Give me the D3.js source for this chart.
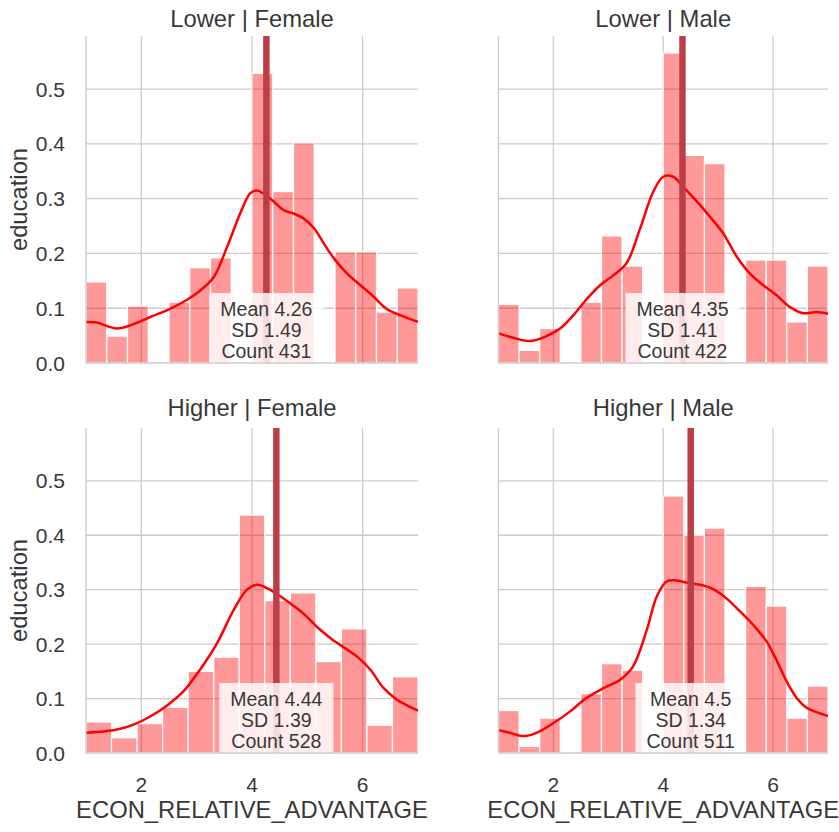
<!DOCTYPE html>
<html>
<head>
<meta charset="utf-8">
<script src="https://cdn.jsdelivr.net/npm/d3@7"></script>
<style>
  html, body { margin: 0; padding: 0; background: #fff; }
  svg { display: block; font-family: "Liberation Sans", Arial, sans-serif; }
</style>
</head>
<body>
<svg id="chart" width="839" height="832"></svg>
<script>
// ---------------- DATA ----------------
const rowLabels = ["Lower", "Higher"];
const colLabels = ["Female", "Male"];
const xLabel = "ECON_RELATIVE_ADVANTAGE";
const yLabel = "education";
const xTicks = [2, 4, 6];
const yTicks = [0.0, 0.1, 0.2, 0.3, 0.4, 0.5];
const xRange = [1, 7];
const yRange = [0, 0.597];

// histogram densities (equal-width bins across xRange)
const densLowerFemale  = [0.148, 0.049, 0.104, 0, 0.111, 0.174, 0.192, 0, 0.529, 0.313, 0.402, 0, 0.203, 0.203, 0.093, 0.137];
const densLowerMale    = [0.107, 0.023, 0.063, 0, 0.111, 0.232, 0.177, 0, 0.566, 0.379, 0.364, 0, 0.188, 0.188, 0.075, 0.177];
const densHigherFemale = [0.057, 0.028, 0.054, 0.084, 0.150, 0.176, 0.437, 0.280, 0.294, 0.168, 0.228, 0.051, 0.140];
const densHigherMale   = [0.078, 0.012, 0.064, 0, 0.109, 0.164, 0.152, 0, 0.472, 0.400, 0.413, 0, 0.306, 0.270, 0.064, 0.123];

// KDE curves [x, density]
const kdeLowerFemale = [[1.0,0.075],[1.19,0.074],[1.56,0.063],[1.86,0.071],[2.16,0.084],[2.46,0.096],[2.82,0.115],[3.06,0.132],[3.31,0.157],[3.55,0.212],[3.79,0.274],[3.97,0.310],[4.09,0.315],[4.21,0.309],[4.39,0.295],[4.57,0.279],[4.75,0.273],[4.93,0.264],[5.12,0.246],[5.30,0.218],[5.48,0.191],[5.72,0.163],[5.96,0.142],[6.20,0.121],[6.44,0.098],[6.69,0.087],[7.0,0.075]];
const kdeLowerMale = [[1.0,0.054],[1.27,0.046],[1.57,0.040],[1.87,0.049],[2.12,0.063],[2.36,0.087],[2.60,0.116],[2.85,0.142],[3.09,0.160],[3.33,0.182],[3.57,0.243],[3.82,0.313],[4.0,0.340],[4.18,0.340],[4.36,0.322],[4.61,0.295],[4.85,0.267],[5.09,0.237],[5.34,0.194],[5.58,0.163],[5.82,0.142],[6.06,0.124],[6.31,0.102],[6.55,0.091],[6.79,0.093],[7.0,0.090]];
const kdeHigherFemale = [[1.0,0.037],[1.25,0.039],[1.56,0.043],[1.86,0.052],[2.16,0.067],[2.46,0.087],[2.76,0.113],[3.06,0.153],[3.37,0.202],[3.67,0.263],[3.91,0.300],[4.09,0.309],[4.27,0.303],[4.45,0.292],[4.69,0.275],[4.93,0.256],[5.18,0.231],[5.42,0.211],[5.66,0.194],[5.90,0.177],[6.14,0.153],[6.38,0.119],[6.62,0.098],[6.81,0.087],[7.0,0.078]];
const kdeHigherMale = [[1.0,0.042],[1.21,0.037],[1.45,0.031],[1.69,0.037],[2.0,0.055],[2.30,0.076],[2.60,0.101],[2.91,0.119],[3.21,0.134],[3.45,0.159],[3.70,0.226],[3.88,0.287],[4.06,0.315],[4.24,0.317],[4.42,0.313],[4.67,0.309],[4.91,0.301],[5.15,0.284],[5.40,0.260],[5.64,0.235],[5.88,0.205],[6.06,0.171],[6.25,0.131],[6.43,0.101],[6.61,0.083],[6.79,0.075],[7.0,0.068]];

const means  = [4.26, 4.35, 4.44, 4.5];
const sds    = [1.49, 1.41, 1.39, 1.34];
const counts = [431, 422, 528, 511];

// ---------------- LAYOUT ----------------
const panels = [
  { r: 0, c: 0, dens: densLowerFemale,  kde: kdeLowerFemale,  i: 0 },
  { r: 0, c: 1, dens: densLowerMale,    kde: kdeLowerMale,    i: 1 },
  { r: 1, c: 0, dens: densHigherFemale, kde: kdeHigherFemale, i: 2 },
  { r: 1, c: 1, dens: densHigherMale,   kde: kdeHigherMale,   i: 3 }
];
const colX = [[86, 418], [498.5, 828]];
const rowY = [[36, 363], [428, 753]];
const titleGap = [9.5, 12];

const textColor = "#383838";
const gridColor = "#cccccc";

const svg = d3.select("#chart");
const defs = svg.append("defs");

panels.forEach(p => {
  const [x0, x1] = colX[p.c];
  const [y0, y1] = rowY[p.r];
  const x = d3.scaleLinear().domain(xRange).range([x0, x1]);
  const y = d3.scaleLinear().domain(yRange).range([y1, y0]);
  const g = svg.append("g");
  const clipId = "clip" + p.i;
  defs.append("clipPath").attr("id", clipId)
    .append("rect").attr("x", x0).attr("y", y0).attr("width", x1 - x0).attr("height", y1 - y0);

  // grid
  g.append("g").selectAll("line.gx").data(xTicks).join("line")
    .attr("x1", d => x(d)).attr("x2", d => x(d)).attr("y1", y0).attr("y2", y1)
    .attr("stroke", gridColor).attr("stroke-width", 1.3);
  g.append("g").selectAll("line.gy").data(yTicks.filter(d => d > 0)).join("line")
    .attr("x1", x0).attr("x2", x1).attr("y1", d => y(d)).attr("y2", d => y(d))
    .attr("stroke", gridColor).attr("stroke-width", 1.3);

  const inner = g.append("g").attr("clip-path", `url(#${clipId})`);

  // bars
  const n = p.dens.length;
  const edges = d3.range(n + 1).map(k => xRange[0] + k * (xRange[1] - xRange[0]) / n);
  inner.append("g").selectAll("rect").data(p.dens.map((d, k) => ({ d, a: edges[k], b: edges[k + 1] })).filter(o => o.d > 0))
    .join("rect")
    .attr("x", o => x(o.a)).attr("width", o => x(o.b) - x(o.a))
    .attr("y", o => y(o.d)).attr("height", o => y(0) - y(o.d))
    .attr("fill", "rgba(255,0,0,0.4)")
    .attr("stroke", "#ffffff").attr("stroke-width", 1.2);

  // kde
  inner.append("path").datum(p.kde)
    .attr("d", d3.line().x(d => x(d[0])).y(d => y(d[1])).curve(d3.curveCatmullRom.alpha(0.5)))
    .attr("fill", "none").attr("stroke", "#ff0000").attr("stroke-width", 2.5);

  // mean line
  inner.append("line")
    .attr("x1", x(means[p.i])).attr("x2", x(means[p.i]))
    .attr("y1", y0).attr("y2", y1)
    .attr("stroke", "#bc3f48").attr("stroke-width", 6.5);

  // stats box
  const lines = ["Mean " + means[p.i], "SD " + sds[p.i], "Count " + counts[p.i]];
  const boxG = inner.append("g");
  const boxRect = boxG.append("rect");
  const tx = boxG.append("g").selectAll("text").data(lines).join("text")
    .attr("x", x(means[p.i]))
    .attr("y", (d, k) => y1 - 47 + k * 21)
    .attr("text-anchor", "middle")
    .attr("font-size", 19.5)
    .attr("fill", textColor)
    .text(d => d);
  let maxW = 0;
  tx.each(function () { maxW = Math.max(maxW, this.getComputedTextLength()); });
  const bw = maxW + 22;
  boxRect.attr("x", x(means[p.i]) - bw / 2).attr("width", bw)
    .attr("y", y1 - 70).attr("height", 80)
    .attr("fill", "#ffffff").attr("fill-opacity", 0.82);
  boxG.raise();

  // spines
  g.append("line").attr("x1", x0).attr("x2", x0).attr("y1", y0).attr("y2", y1)
    .attr("stroke", gridColor).attr("stroke-width", 1.4);
  g.append("line").attr("x1", x0).attr("x2", x1).attr("y1", y1).attr("y2", y1)
    .attr("stroke", gridColor).attr("stroke-width", 1.4);

  // title
  g.append("text")
    .attr("x", (x0 + x1) / 2).attr("y", y0 - titleGap[p.r])
    .attr("text-anchor", "middle").attr("font-size", 23.8).attr("fill", textColor)
    .text(rowLabels[p.r] + " | " + colLabels[p.c]);

  // y ticks & label for left column
  if (p.c === 0) {
    g.append("g").selectAll("text").data(yTicks).join("text")
      .attr("x", x0 - 21).attr("y", d => y(d)).attr("dy", "0.36em")
      .attr("text-anchor", "end").attr("font-size", 21).attr("fill", textColor)
      .text(d => d3.format(".1f")(d));
    g.append("text")
      .attr("transform", `translate(${x0 - 59},${(y0 + y1) / 2}) rotate(-90)`)
      .attr("text-anchor", "middle").attr("font-size", 23.8).attr("fill", textColor)
      .text(yLabel);
  }
  // x ticks & label for bottom row
  if (p.r === 1) {
    g.append("g").selectAll("text").data(xTicks).join("text")
      .attr("x", d => x(d)).attr("y", y1 + 39)
      .attr("text-anchor", "middle").attr("font-size", 21).attr("fill", textColor)
      .text(d => d);
    g.append("text")
      .attr("x", (x0 + x1) / 2).attr("y", y1 + 65)
      .attr("text-anchor", "middle").attr("font-size", 23.8).attr("fill", textColor)
      .text(xLabel);
  }
});
</script>
</body>
</html>
